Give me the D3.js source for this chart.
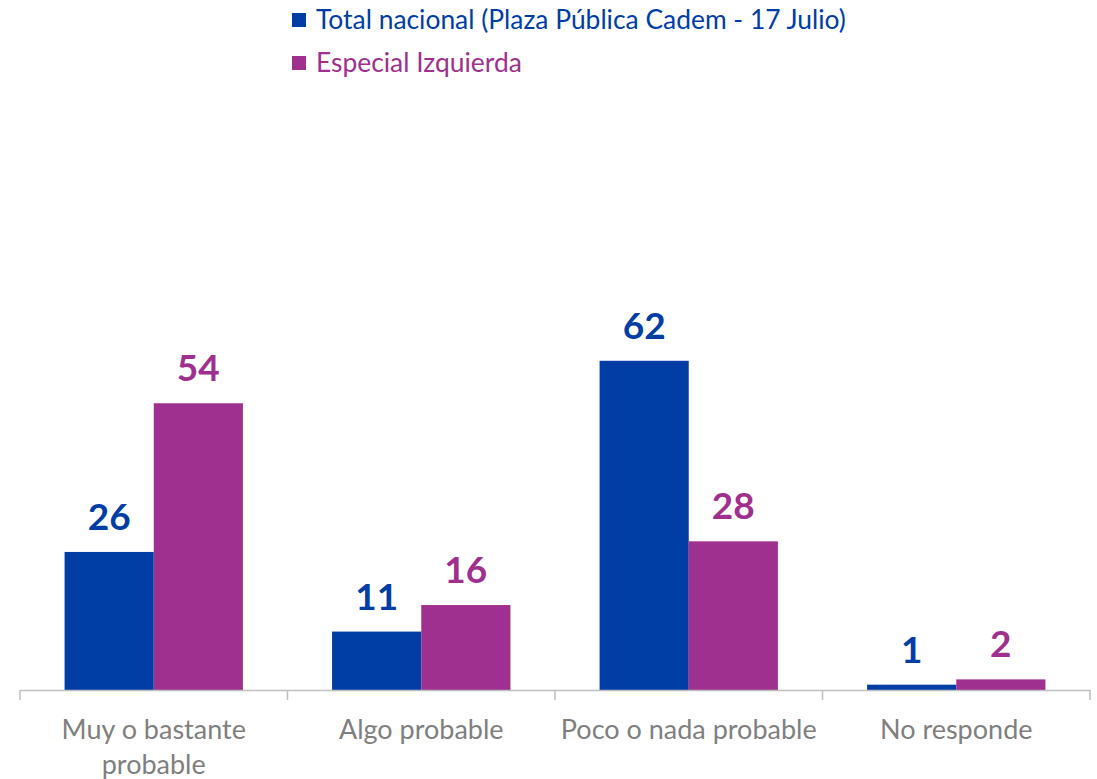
<!DOCTYPE html>
<html>
<head>
<meta charset="utf-8">
<script src="https://cdn.jsdelivr.net/npm/d3@7"></script>
<style>
  body { margin: 0; background: #fff; }
  svg { display: block; font-family: Lato, "Open Sans", sans-serif; }
</style>
</head>
<body>
<svg id="chart" width="1097" height="779"></svg>
<script>
  // chart data
  var categories = [["Muy o bastante", "probable"], ["Algo probable"], ["Poco o nada probable"], ["No responde"]];
  var seriesNames = ["Total nacional (Plaza Pública Cadem - 17 Julio)", "Especial Izquierda"];
  var totalNacional = [26, 11, 62, 1];
  var especialIzq = [54, 16, 28, 2];
  var colors = ["#003DA5", "#A0308F"];

  var svg = d3.select('#chart');

  var rows = categories.map(function (c, i) {
    return { key: i, lines: c, values: [totalNacional[i], especialIzq[i]] };
  });

  var x0 = d3.scaleBand()
    .domain(rows.map(function (d) { return d.key; }))
    .range([20, 1090])
    .padding(0);

  var x1 = d3.scaleBand()
    .domain([0, 1])
    .range([0, x0.bandwidth()])
    .paddingInner(0)
    .paddingOuter(0.5);

  var y = d3.scaleLinear().domain([0, 100]).range([690, 159]);

  // bars
  var groups = svg.selectAll('.grp')
    .data(rows)
    .enter()
    .append('g')
    .attr('class', 'grp')
    .attr('transform', function (d) { return 'translate(' + x0(d.key) + ',0)'; });

  groups.selectAll('rect')
    .data(function (d) { return d.values.map(function (v, j) { return { s: j, v: v }; }); })
    .enter()
    .append('rect')
    .attr('x', function (d) { return x1(d.s); })
    .attr('width', x1.bandwidth())
    .attr('y', function (d) { return y(d.v); })
    .attr('height', function (d) { return y(0) - y(d.v); })
    .attr('fill', function (d) { return colors[d.s]; });

  // value labels
  groups.selectAll('text.val')
    .data(function (d) { return d.values.map(function (v, j) { return { s: j, v: v }; }); })
    .enter()
    .append('text')
    .attr('class', 'val')
    .attr('x', function (d) { return x1(d.s) + x1.bandwidth() / 2; })
    .attr('y', function (d) { return y(d.v) - 22; })
    .attr('text-anchor', 'middle')
    .attr('font-size', 37)
    .attr('font-weight', 'bold')
    .attr('fill', function (d) { return colors[d.s]; })
    .text(function (d) { return d.v; });

  // axis line + ticks
  var axis = d3.axisBottom(x0).tickSize(0).tickFormat('');
  var gAxis = svg.append('g').attr('transform', 'translate(0,690)').call(axis);
  gAxis.select('.domain').attr('stroke', '#BFBFBF').attr('stroke-width', 1.5);

  var bounds = x0.domain().map(function (k) { return x0(k); }).concat([x0.range()[1]]);
  svg.selectAll('.tick-sep')
    .data(bounds)
    .enter()
    .append('line')
    .attr('x1', function (d) { return d; })
    .attr('x2', function (d) { return d; })
    .attr('y1', 690)
    .attr('y2', 700)
    .attr('stroke', '#BFBFBF')
    .attr('stroke-width', 1.5);

  // category labels
  var catText = svg.selectAll('.cat')
    .data(rows)
    .enter()
    .append('text')
    .attr('class', 'cat')
    .attr('text-anchor', 'middle')
    .attr('font-size', 27)
    .attr('fill', '#7F7F7F');

  catText.selectAll('tspan')
    .data(function (d) { return d.lines.map(function (l) { return { l: l, k: d.key }; }); })
    .enter()
    .append('tspan')
    .attr('x', function (d) { return x0(d.k) + x0.bandwidth() / 2; })
    .attr('y', function (d, i) { return 739 + i * 35; })
    .text(function (d) { return d.l; });

  // legend
  var leg = svg.selectAll('.leg')
    .data(seriesNames)
    .enter()
    .append('g')
    .attr('class', 'leg')
    .attr('transform', function (d, i) { return 'translate(292,' + (13 + i * 43) + ')'; });

  leg.append('rect')
    .attr('width', 14)
    .attr('height', 14)
    .attr('fill', function (d, i) { return colors[i]; });

  leg.append('text')
    .attr('x', 24)
    .attr('y', 16)
    .attr('font-size', 26.4)
    .attr('fill', function (d, i) { return colors[i]; })
    .text(function (d) { return d; });
</script>
</body>
</html>
